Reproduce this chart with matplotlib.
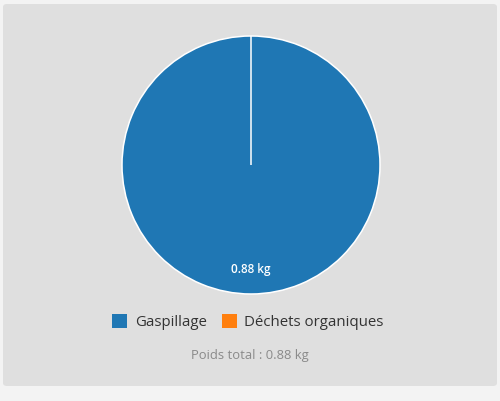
import matplotlib.pyplot as plt
from matplotlib.patches import FancyBboxPatch, Patch

# données du graphique
categories = ["Gaspillage", "Déchets organiques"]
poids_kg = [0.88, 0.0]
couleurs = ["#1f77b4", "#ff7f0e"]
total_label = "Poids total : 0.88 kg"

plt.rcParams["font.family"] = ["Open Sans", "DejaVu Sans"]

W, H = 500, 401
fig = plt.figure(figsize=(W / 100, H / 100), dpi=100, facecolor="#f3f3f3")

# panneau gris arrondi
panel = FancyBboxPatch(
    (3 / W, 1 - 386 / H), 494 / W, 382 / H,
    boxstyle="round,pad=0,rounding_size=0.008",
    transform=fig.transFigure, facecolor="#dfdfdf", edgecolor="none",
    zorder=-10,
)
fig.patches.append(panel)

# camembert (centre ~ (251, 165) px, rayon ~ 129 px)
cx, cy, r = 251, 165, 129
ax = fig.add_axes([(cx - r) / W, 1 - (cy + r) / H, 2 * r / W, 2 * r / H])
ax.set_facecolor("none")

total = sum(poids_kg)


def fmt(pct):
    val = pct * total / 100
    return f"{val:.2f} kg" if val > 0 else ""


wedges, texts = ax.pie(
    poids_kg, colors=couleurs, startangle=90, counterclock=False,
    wedgeprops=dict(edgecolor="white", linewidth=1.1),
    labels=[fmt(v / total * 100) for v in poids_kg], labeldistance=0.81,
    textprops=dict(color="white", fontsize=8.5, fontweight="semibold",
                   ha="center", va="center"),
)
ax.set_xlim(-1, 1)
ax.set_ylim(-1, 1)
ax.axis("off")

# légende
handles = [Patch(facecolor=c, edgecolor="none") for c in couleurs]
fig.legend(
    handles, categories, loc="center", bbox_to_anchor=(0.496, 1 - 322 / H),
    ncol=2, frameon=False, fontsize=10.8, handlelength=1.0, handleheight=1.0,
    handletextpad=0.5, columnspacing=1.0, labelcolor="#333333",
)

fig.text(0.5, 1 - 355 / H, total_label, ha="center", va="center",
         fontsize=9.4, color="#8a8a8a")

fig.savefig("out.png", dpi=100, facecolor=fig.get_facecolor())
